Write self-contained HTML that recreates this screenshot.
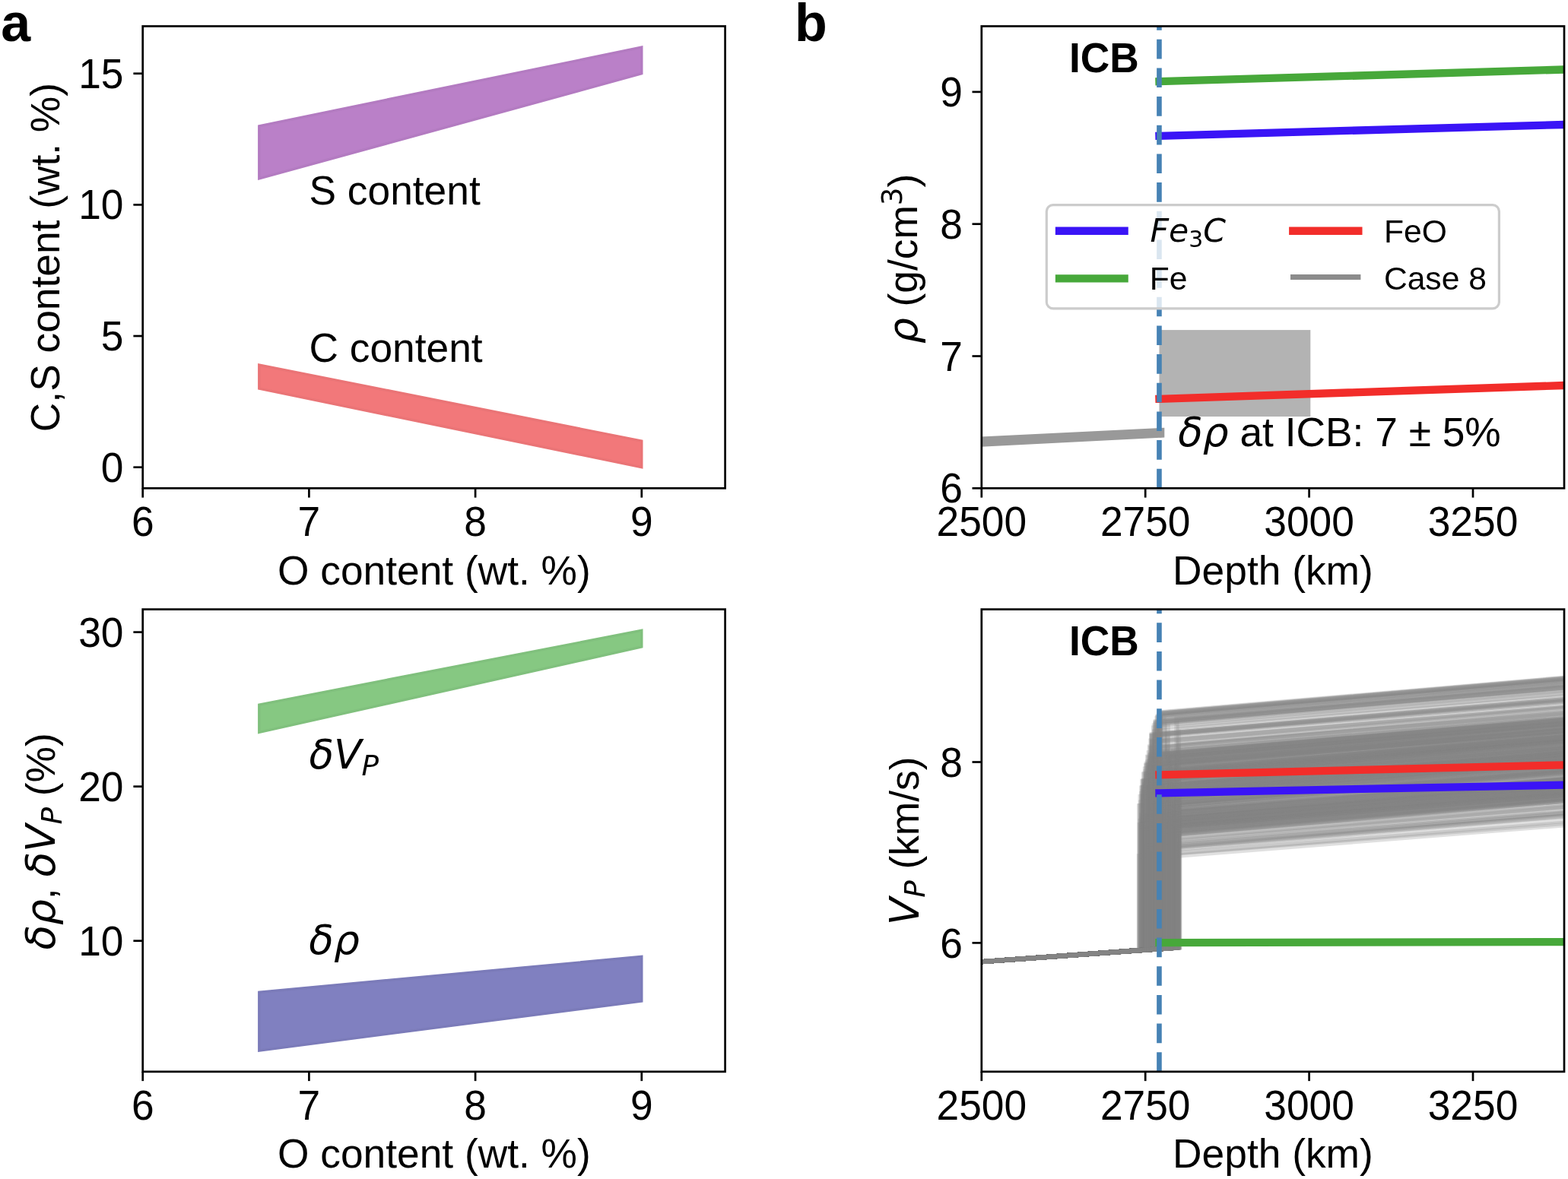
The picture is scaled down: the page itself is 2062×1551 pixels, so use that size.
<!DOCTYPE html>
<html><head><meta charset="utf-8"><title>Figure</title>
<style>html,body{margin:0;padding:0;background:#fff;}svg{display:block;}svg{font-family:'Liberation Sans', Arial, sans-serif;font-size:53.3px;}text{fill:#000;font-kerning:none;}</style>
</head><body>
<svg width="2062" height="1551" viewBox="0 0 2062 1551">
<rect x="0" y="0" width="2062" height="1551" fill="#fff"/>
<defs>
<clipPath id="cA1"><rect x="187.7" y="34.5" width="765.9" height="607.8"/></clipPath>
<clipPath id="cA2"><rect x="187.7" y="801.6" width="765.9" height="608.2"/></clipPath>
<clipPath id="cB1"><rect x="1290.8" y="34.5" width="766.2" height="607.8"/></clipPath>
<clipPath id="cB2"><rect x="1290.8" y="801.6" width="766.2" height="608.2"/></clipPath>
</defs>
<g clip-path="url(#cA1)">
<path d="M340.79,234.85 L843.8,96.73 L843.8,62.2 L340.79,165.79 Z" fill="#ba80c8" stroke="#b37bc1" stroke-width="3.4" stroke-linejoin="miter"/>
<path d="M340.79,511.09 L843.8,614.68 L843.8,580.15 L340.79,480.01 Z" fill="#f2787a" stroke="#ea7476" stroke-width="3.4" stroke-linejoin="miter"/>
</g>
<rect x="187.7" y="34.5" width="765.9" height="607.8" fill="none" stroke="#000" stroke-width="2.7" stroke-linejoin="miter"/>
<line x1="187.7" y1="642.3" x2="187.7" y2="654.6" stroke="#000" stroke-width="2.7"/>
<text transform="translate(187.7,705.4) scale(1,1.04)" text-anchor="middle">6</text>
<line x1="406.4" y1="642.3" x2="406.4" y2="654.6" stroke="#000" stroke-width="2.7"/>
<text transform="translate(406.4,705.4) scale(1,1.04)" text-anchor="middle">7</text>
<line x1="625.1" y1="642.3" x2="625.1" y2="654.6" stroke="#000" stroke-width="2.7"/>
<text transform="translate(625.1,705.4) scale(1,1.04)" text-anchor="middle">8</text>
<line x1="843.8" y1="642.3" x2="843.8" y2="654.6" stroke="#000" stroke-width="2.7"/>
<text transform="translate(843.8,705.4) scale(1,1.04)" text-anchor="middle">9</text>
<line x1="175.4" y1="614.68" x2="187.7" y2="614.68" stroke="#000" stroke-width="2.7"/>
<text transform="translate(162.5,633.78) scale(1,1.04)" text-anchor="end">0</text>
<line x1="175.4" y1="442.03" x2="187.7" y2="442.03" stroke="#000" stroke-width="2.7"/>
<text transform="translate(162.5,461.13) scale(1,1.04)" text-anchor="end">5</text>
<line x1="175.4" y1="269.38" x2="187.7" y2="269.38" stroke="#000" stroke-width="2.7"/>
<text transform="translate(162.5,288.48) scale(1,1.04)" text-anchor="end">10</text>
<line x1="175.4" y1="96.73" x2="187.7" y2="96.73" stroke="#000" stroke-width="2.7"/>
<text transform="translate(162.5,115.83) scale(1,1.04)" text-anchor="end">15</text>
<text transform="translate(406.5,269.1)">S content</text>
<text transform="translate(406.5,475.8)">C content</text>
<text transform="translate(570.9,768.5)" text-anchor="middle">O content (wt. %)</text>
<text transform="translate(78.4,338.6) rotate(-90)" text-anchor="middle">C,S content (wt. %)</text>
<g clip-path="url(#cA2)">
<path d="M340.79,963.38 L843.8,850.89 L843.8,829.37 L340.79,927.03 Z" fill="#86c882" stroke="#80c07d" stroke-width="3.4" stroke-linejoin="miter"/>
<path d="M340.79,1382.07 L843.8,1316.89 L843.8,1258.41 L340.79,1305.32 Z" fill="#8080c0" stroke="#7b7bb9" stroke-width="3.4" stroke-linejoin="miter"/>
</g>
<rect x="187.7" y="801.6" width="765.9" height="608.2" fill="none" stroke="#000" stroke-width="2.7" stroke-linejoin="miter"/>
<line x1="187.7" y1="1409.8" x2="187.7" y2="1422.1" stroke="#000" stroke-width="2.7"/>
<text transform="translate(187.7,1472.9) scale(1,1.04)" text-anchor="middle">6</text>
<line x1="406.4" y1="1409.8" x2="406.4" y2="1422.1" stroke="#000" stroke-width="2.7"/>
<text transform="translate(406.4,1472.9) scale(1,1.04)" text-anchor="middle">7</text>
<line x1="625.1" y1="1409.8" x2="625.1" y2="1422.1" stroke="#000" stroke-width="2.7"/>
<text transform="translate(625.1,1472.9) scale(1,1.04)" text-anchor="middle">8</text>
<line x1="843.8" y1="1409.8" x2="843.8" y2="1422.1" stroke="#000" stroke-width="2.7"/>
<text transform="translate(843.8,1472.9) scale(1,1.04)" text-anchor="middle">9</text>
<line x1="175.4" y1="1237.7" x2="187.7" y2="1237.7" stroke="#000" stroke-width="2.7"/>
<text transform="translate(162.5,1256.8) scale(1,1.04)" text-anchor="end">10</text>
<line x1="175.4" y1="1034.65" x2="187.7" y2="1034.65" stroke="#000" stroke-width="2.7"/>
<text transform="translate(162.5,1053.75) scale(1,1.04)" text-anchor="end">20</text>
<line x1="175.4" y1="831.6" x2="187.7" y2="831.6" stroke="#000" stroke-width="2.7"/>
<text transform="translate(162.5,850.7) scale(1,1.04)" text-anchor="end">30</text>
<text transform="translate(406.5,1011.1)" font-family="'DejaVu Sans', sans-serif" font-style="oblique">δV<tspan font-size="37.31" dy="8.7">P</tspan></text>
<text transform="translate(406.3,1255.1)" font-family="'DejaVu Sans', sans-serif" font-style="oblique">δρ</text>
<text transform="translate(570.9,1535.9)" text-anchor="middle">O content (wt. %)</text>
<text transform="translate(71.9,1249.6) rotate(-90)"><tspan font-family="'DejaVu Sans', sans-serif" font-style="oblique">δρ</tspan><tspan>, </tspan><tspan font-family="'DejaVu Sans', sans-serif" font-style="oblique">δV</tspan><tspan font-family="'DejaVu Sans', sans-serif" font-style="oblique" font-size="37.31" dy="8.7">P</tspan><tspan dy="-8.7"> (%)</tspan></text>
<g clip-path="url(#cB1)">
<path d="M1288,574.6 L1531.3,562.7 L1531.3,575.6 L1288,587.9 Z" fill="#999999"/>
<rect x="1524.45" y="434.1" width="198.85" height="113.9" fill="#b3b3b3"/>
<line x1="1524.45" y1="107.2" x2="2100" y2="90.23" stroke="#47a83a" stroke-width="10.3" stroke-linecap="square"/>
<line x1="1524.45" y1="178.8" x2="2100" y2="162.8" stroke="#3a14f6" stroke-width="10.3" stroke-linecap="square"/>
<line x1="1524.45" y1="524.8" x2="2100" y2="505.56" stroke="#f22d2a" stroke-width="10.3" stroke-linecap="square"/>
<line x1="1524.45" y1="642.3" x2="1524.45" y2="0" stroke="#4682b4" stroke-width="6.6" stroke-dasharray="25.6 12.06"/>
</g>
<rect x="1290.8" y="34.5" width="766.2" height="607.8" fill="none" stroke="#000" stroke-width="2.7" stroke-linejoin="miter"/>
<line x1="1290.8" y1="642.3" x2="1290.8" y2="654.6" stroke="#000" stroke-width="2.7"/>
<text transform="translate(1290.8,705.4) scale(1,1.04)" text-anchor="middle">2500</text>
<line x1="1506.2" y1="642.3" x2="1506.2" y2="654.6" stroke="#000" stroke-width="2.7"/>
<text transform="translate(1506.2,705.4) scale(1,1.04)" text-anchor="middle">2750</text>
<line x1="1721.6" y1="642.3" x2="1721.6" y2="654.6" stroke="#000" stroke-width="2.7"/>
<text transform="translate(1721.6,705.4) scale(1,1.04)" text-anchor="middle">3000</text>
<line x1="1937" y1="642.3" x2="1937" y2="654.6" stroke="#000" stroke-width="2.7"/>
<text transform="translate(1937,705.4) scale(1,1.04)" text-anchor="middle">3250</text>
<line x1="1278.5" y1="642.3" x2="1290.8" y2="642.3" stroke="#000" stroke-width="2.7"/>
<text transform="translate(1266,661.4) scale(1,1.04)" text-anchor="end">6</text>
<line x1="1278.5" y1="468.5" x2="1290.8" y2="468.5" stroke="#000" stroke-width="2.7"/>
<text transform="translate(1266,487.6) scale(1,1.04)" text-anchor="end">7</text>
<line x1="1278.5" y1="294.7" x2="1290.8" y2="294.7" stroke="#000" stroke-width="2.7"/>
<text transform="translate(1266,313.8) scale(1,1.04)" text-anchor="end">8</text>
<line x1="1278.5" y1="120.9" x2="1290.8" y2="120.9" stroke="#000" stroke-width="2.7"/>
<text transform="translate(1266,140) scale(1,1.04)" text-anchor="end">9</text>
<text transform="translate(1405.93,95) scale(1,1.04)" font-weight="bold">ICB</text>
<rect x="1376.3" y="269.6" width="595.1" height="136.3" rx="8.5" ry="8.5" fill="#ffffff" fill-opacity="0.8" stroke="#cccccc" stroke-width="3.2"/>
<line x1="1393.05" y1="303.7" x2="1478.55" y2="303.7" stroke="#3a14f6" stroke-width="10.4" stroke-linecap="square"/>
<line x1="1393.05" y1="366.4" x2="1478.55" y2="366.4" stroke="#47a83a" stroke-width="10.4" stroke-linecap="square"/>
<line x1="1700.3" y1="303.7" x2="1786.3" y2="303.7" stroke="#f22d2a" stroke-width="10.4" stroke-linecap="square"/>
<line x1="1700.5" y1="364.4" x2="1785.9" y2="364.4" stroke="#8c8c8c" stroke-width="7" stroke-linecap="square"/>
<text transform="translate(1512.5,318.2)" font-family="'DejaVu Sans', sans-serif" font-style="oblique" font-size="42.6">Fe<tspan font-family="'DejaVu Sans', sans-serif" font-style="normal" font-size="29.82" dy="6.8">3</tspan><tspan dy="-6.8">C</tspan></text>
<text transform="translate(1511.7,380.5)" font-size="42.6">Fe</text>
<text transform="translate(1820,318.5)" font-size="42.6">FeO</text>
<text transform="translate(1819.9,380.5)" font-size="42.6">Case 8</text>
<text transform="translate(1549.2,586.9)"><tspan font-family="'DejaVu Sans', sans-serif" font-style="oblique">δρ</tspan> at ICB: 7 ± 5%</text>
<text transform="translate(1673.9,768.5)" text-anchor="middle">Depth (km)</text>
<text transform="translate(1206.4,452.1) rotate(-90)"><tspan font-family="'DejaVu Sans', sans-serif" font-style="oblique">ρ</tspan><tspan> (g/cm</tspan><tspan font-family="'DejaVu Sans', sans-serif" font-size="37.31" dy="-20.6">3</tspan><tspan dy="20.6">)</tspan></text>
<g clip-path="url(#cB2)">
<g fill="none" stroke="#858585" stroke-width="6.2" stroke-opacity="0.25" stroke-linejoin="miter">
<path d="M1285,1265.62 L1533.58,1247.6 L1533.58,1005.84 L2100,957.98"/>
<path d="M1285,1265.62 L1503.87,1249.75 L1503.87,1028.4 L2100,980.13"/>
<path d="M1285,1265.62 L1502.83,1249.83 L1502.83,1035.53 L2100,988.28"/>
<path d="M1285,1265.62 L1501.9,1249.9 L1501.9,1076.82 L2100,1029.89"/>
<path d="M1285,1265.62 L1525.42,1248.19 L1525.42,1089.51 L2100,1042.24"/>
<path d="M1285,1265.62 L1542.46,1246.95 L1542.46,1095.63 L2100,1048.57"/>
<path d="M1285,1265.62 L1518.23,1248.71 L1518.23,1002.37 L2100,952.96"/>
<path d="M1285,1265.62 L1529.15,1247.92 L1529.15,1051.07 L2100,1003.26"/>
<path d="M1285,1265.62 L1510.2,1249.29 L1510.2,996.59 L2100,948.47"/>
<path d="M1285,1265.62 L1513.58,1249.05 L1513.58,1034.9 L2100,986.5"/>
<path d="M1285,1265.62 L1539.97,1247.13 L1539.97,1021.48 L2100,972.45"/>
<path d="M1285,1265.62 L1522.7,1248.39 L1522.7,1050.31 L2100,1001.45"/>
<path d="M1285,1265.62 L1550.37,1246.38 L1550.37,1020.23 L2100,972.37"/>
<path d="M1285,1265.62 L1503.13,1249.81 L1503.13,1069.5 L2100,1021.88"/>
<path d="M1285,1265.62 L1536.63,1247.38 L1536.63,1060.16 L2100,1012"/>
<path d="M1285,1265.62 L1519.26,1248.64 L1519.26,975.19 L2100,925.86"/>
<path d="M1285,1265.62 L1541.87,1247 L1541.87,1037.9 L2100,988.57"/>
<path d="M1285,1265.62 L1499.37,1250.08 L1499.37,1059.74 L2100,1011.54"/>
<path d="M1285,1265.62 L1540.18,1247.12 L1540.18,1094.28 L2100,1047.22"/>
<path d="M1285,1265.62 L1498.07,1250.17 L1498.07,1060.21 L2100,1012.54"/>
<path d="M1285,1265.62 L1508.97,1249.38 L1508.97,1002.3 L2100,953.05"/>
<path d="M1285,1265.62 L1519.9,1248.59 L1519.9,1016 L2100,966.66"/>
<path d="M1285,1265.62 L1525.36,1248.19 L1525.36,1037.16 L2100,988.07"/>
<path d="M1285,1265.62 L1521.55,1248.47 L1521.55,944.87 L2100,895.46"/>
<path d="M1285,1265.62 L1548.77,1246.5 L1548.77,1082.84 L2100,1035.84"/>
<path d="M1285,1265.62 L1513.32,1249.07 L1513.32,1014.36 L2100,965.87"/>
<path d="M1285,1265.62 L1504.56,1249.7 L1504.56,1017.59 L2100,969.35"/>
<path d="M1285,1265.62 L1548.5,1246.52 L1548.5,1049.47 L2100,1000.81"/>
<path d="M1285,1265.62 L1531.27,1247.77 L1531.27,1054.85 L2100,1007.77"/>
<path d="M1285,1265.62 L1535.75,1247.44 L1535.75,949.68 L2100,899.41"/>
<path d="M1285,1265.62 L1504.79,1249.69 L1504.79,1031.89 L2100,983.4"/>
<path d="M1285,1265.62 L1515.27,1248.93 L1515.27,997.07 L2100,949.02"/>
<path d="M1285,1265.62 L1509,1249.38 L1509,995.52 L2100,947.51"/>
<path d="M1285,1265.62 L1502.85,1249.83 L1502.85,1028.18 L2100,979.13"/>
<path d="M1285,1265.62 L1515.52,1248.91 L1515.52,1005.6 L2100,957.27"/>
<path d="M1285,1265.62 L1543.65,1246.87 L1543.65,1002.9 L2100,952.93"/>
<path d="M1285,1265.62 L1502.47,1249.85 L1502.47,1040.8 L2100,993.6"/>
<path d="M1285,1265.62 L1542.02,1246.99 L1542.02,1017.8 L2100,969.87"/>
<path d="M1285,1265.62 L1522.61,1248.39 L1522.61,1089.85 L2100,1043.15"/>
<path d="M1285,1265.62 L1529.02,1247.93 L1529.02,992.84 L2100,942.87"/>
<path d="M1285,1265.62 L1517.79,1248.74 L1517.79,954.41 L2100,905.27"/>
<path d="M1285,1265.62 L1522.86,1248.38 L1522.86,1071.05 L2100,1022.7"/>
<path d="M1285,1265.62 L1541.25,1247.04 L1541.25,1013.42 L2100,963.65"/>
<path d="M1285,1265.62 L1531.4,1247.76 L1531.4,948.19 L2100,898.06"/>
<path d="M1285,1265.62 L1514.18,1249 L1514.18,1044.35 L2100,997.29"/>
<path d="M1285,1265.62 L1513.4,1249.06 L1513.4,1019.34 L2100,970.48"/>
<path d="M1285,1265.62 L1547.45,1246.59 L1547.45,1106.94 L2100,1058.5"/>
<path d="M1285,1265.62 L1506.3,1249.58 L1506.3,1104.16 L2100,1057.6"/>
<path d="M1285,1265.62 L1531.73,1247.73 L1531.73,1011.46 L2100,961.91"/>
<path d="M1285,1265.62 L1519.11,1248.65 L1519.11,966.39 L2100,916.48"/>
<path d="M1285,1265.62 L1545.71,1246.72 L1545.71,1059.36 L2100,1010.67"/>
<path d="M1285,1265.62 L1514.76,1248.96 L1514.76,966.47 L2100,916.61"/>
<path d="M1285,1265.62 L1549.67,1246.43 L1549.67,1074.09 L2100,1026.42"/>
<path d="M1285,1265.62 L1534.2,1247.55 L1534.2,1089.41 L2100,1042.58"/>
<path d="M1285,1265.62 L1546.47,1246.66 L1546.47,1005.87 L2100,956.33"/>
<path d="M1285,1265.62 L1550.23,1246.39 L1550.23,1076.78 L2100,1028.59"/>
<path d="M1285,1265.62 L1503.12,1249.81 L1503.12,1047.61 L2100,1000.69"/>
<path d="M1285,1265.62 L1522.51,1248.4 L1522.51,1114.41 L2100,1066.36"/>
<path d="M1285,1265.62 L1540.44,1247.1 L1540.44,1081.53 L2100,1034.45"/>
<path d="M1285,1265.62 L1512.39,1249.13 L1512.39,1020.76 L2100,972.16"/>
<path d="M1285,1265.62 L1505.64,1249.62 L1505.64,1034 L2100,984.93"/>
<path d="M1285,1265.62 L1527.09,1248.07 L1527.09,1038.11 L2100,988.97"/>
<path d="M1285,1265.62 L1521.1,1248.5 L1521.1,1086.36 L2100,1038.78"/>
<path d="M1285,1265.62 L1525.34,1248.2 L1525.34,991.96 L2100,943.72"/>
<path d="M1285,1265.62 L1504.05,1249.74 L1504.05,1073.91 L2100,1026.39"/>
<path d="M1285,1265.62 L1512.12,1249.15 L1512.12,1048.43 L2100,1000.38"/>
<path d="M1285,1265.62 L1501.16,1249.95 L1501.16,1072.35 L2100,1024.63"/>
<path d="M1285,1265.62 L1538.9,1247.21 L1538.9,1019.08 L2100,970.44"/>
<path d="M1285,1265.62 L1545.88,1246.71 L1545.88,1069.8 L2100,1022"/>
<path d="M1285,1265.62 L1522.66,1248.39 L1522.66,1043.08 L2100,994.51"/>
<path d="M1285,1265.62 L1520.51,1248.55 L1520.51,1045.99 L2100,996.94"/>
<path d="M1285,1265.62 L1547.78,1246.57 L1547.78,1082.04 L2100,1034.8"/>
<path d="M1285,1265.62 L1541.31,1247.04 L1541.31,1089.04 L2100,1042.22"/>
<path d="M1285,1265.62 L1502.93,1249.82 L1502.93,1036.42 L2100,988.86"/>
<path d="M1285,1265.62 L1537.82,1247.29 L1537.82,1060.29 L2100,1011.43"/>
<path d="M1285,1265.62 L1530.31,1247.84 L1530.31,1065.19 L2100,1018.08"/>
<path d="M1285,1265.62 L1525.01,1248.22 L1525.01,938.89 L2100,888.21"/>
<path d="M1285,1265.62 L1550.87,1246.34 L1550.87,1041.16 L2100,992.06"/>
<path d="M1285,1265.62 L1523.81,1248.31 L1523.81,1035.31 L2100,987.38"/>
<path d="M1285,1265.62 L1535.9,1247.43 L1535.9,1023.45 L2100,975.95"/>
<path d="M1285,1265.62 L1501.16,1249.95 L1501.16,1036.25 L2100,988.49"/>
<path d="M1285,1265.62 L1501.19,1249.95 L1501.19,1043.79 L2100,994.73"/>
<path d="M1285,1265.62 L1525.25,1248.2 L1525.25,938.65 L2100,889.44"/>
<path d="M1285,1265.62 L1508.74,1249.4 L1508.74,1071.79 L2100,1024.95"/>
<path d="M1285,1265.62 L1539.99,1247.13 L1539.99,1085.7 L2100,1038.57"/>
<path d="M1285,1265.62 L1525.04,1248.22 L1525.04,1086.51 L2100,1038.55"/>
<path d="M1285,1265.62 L1536.14,1247.41 L1536.14,996.04 L2100,947.26"/>
<path d="M1285,1265.62 L1528.78,1247.95 L1528.78,1088.53 L2100,1040.35"/>
<path d="M1285,1265.62 L1499.59,1250.06 L1499.59,1079.9 L2100,1031.65"/>
<path d="M1285,1265.62 L1526.7,1248.1 L1526.7,1025.61 L2100,976.25"/>
<path d="M1285,1265.62 L1527.76,1248.02 L1527.76,1003.57 L2100,955.36"/>
<path d="M1285,1265.62 L1507.99,1249.45 L1507.99,1006.95 L2100,959"/>
<path d="M1285,1265.62 L1538,1247.28 L1538,1022.03 L2100,973.91"/>
<path d="M1285,1265.62 L1518.96,1248.66 L1518.96,1008.68 L2100,961.08"/>
<path d="M1285,1265.62 L1538.51,1247.24 L1538.51,991.61 L2100,942.48"/>
<path d="M1285,1265.62 L1547.49,1246.59 L1547.49,1039.85 L2100,992.33"/>
<path d="M1285,1265.62 L1515.36,1248.92 L1515.36,968.94 L2100,919.02"/>
<path d="M1285,1265.62 L1532.59,1247.67 L1532.59,1043.2 L2100,993.94"/>
<path d="M1285,1265.62 L1533.1,1247.63 L1533.1,1077.39 L2100,1029.37"/>
<path d="M1285,1265.62 L1504.23,1249.73 L1504.23,1026.49 L2100,979.01"/>
<path d="M1285,1265.62 L1508.01,1249.45 L1508.01,1067.79 L2100,1020.82"/>
<path d="M1285,1265.62 L1543.22,1246.9 L1543.22,1078.33 L2100,1030.18"/>
<path d="M1285,1265.62 L1515.66,1248.9 L1515.66,1015.43 L2100,967"/>
<path d="M1285,1265.62 L1510.78,1249.25 L1510.78,1036.81 L2100,987.65"/>
<path d="M1285,1265.62 L1507.46,1249.49 L1507.46,1110.52 L2100,1062.45"/>
<path d="M1285,1265.62 L1502.51,1249.85 L1502.51,1027.44 L2100,979.44"/>
<path d="M1285,1265.62 L1507.08,1249.52 L1507.08,1042.79 L2100,994.72"/>
<path d="M1285,1265.62 L1507.1,1249.52 L1507.1,1017.74 L2100,969.53"/>
<path d="M1285,1265.62 L1519.76,1248.6 L1519.76,992.36 L2100,944.06"/>
<path d="M1285,1265.62 L1536.21,1247.41 L1536.21,1045.56 L2100,997.01"/>
<path d="M1285,1265.62 L1514.92,1248.95 L1514.92,1082.3 L2100,1035.15"/>
<path d="M1285,1265.62 L1534.16,1247.56 L1534.16,1097.87 L2100,1050.14"/>
<path d="M1285,1265.62 L1544.58,1246.8 L1544.58,1077.71 L2100,1029.63"/>
<path d="M1285,1265.62 L1502.57,1249.85 L1502.57,1075.28 L2100,1027.68"/>
<path d="M1285,1265.62 L1539.1,1247.2 L1539.1,1077.67 L2100,1029.2"/>
<path d="M1285,1265.62 L1531.67,1247.74 L1531.67,1083.75 L2100,1035.71"/>
<path d="M1285,1265.62 L1513.23,1249.07 L1513.23,993.27 L2100,944.75"/>
<path d="M1285,1265.62 L1524.34,1248.27 L1524.34,1077.76 L2100,1029.83"/>
<path d="M1285,1265.62 L1520.4,1248.55 L1520.4,1061.47 L2100,1014.67"/>
<path d="M1285,1265.62 L1519.8,1248.6 L1519.8,951.48 L2100,901.92"/>
<path d="M1285,1265.62 L1538.38,1247.25 L1538.38,996.94 L2100,948.53"/>
<path d="M1285,1265.62 L1536.68,1247.37 L1536.68,1017.88 L2100,969.9"/>
<path d="M1285,1265.62 L1520.66,1248.53 L1520.66,1092.45 L2100,1045.29"/>
<path d="M1285,1265.62 L1536.78,1247.37 L1536.78,1061.79 L2100,1013.56"/>
<path d="M1285,1265.62 L1512.82,1249.1 L1512.82,998.13 L2100,949.91"/>
<path d="M1285,1265.62 L1515.27,1248.93 L1515.27,975.68 L2100,927.63"/>
<path d="M1285,1265.62 L1533.58,1247.6 L1533.58,1018.22 L2100,969.21"/>
<path d="M1285,1265.62 L1525.36,1248.19 L1525.36,1020.54 L2100,972.11"/>
<path d="M1285,1265.62 L1545.95,1246.7 L1545.95,1002.44 L2100,954.18"/>
<path d="M1285,1265.62 L1497.92,1250.18 L1497.92,1126.21 L2100,1079.52"/>
<path d="M1285,1265.62 L1525.49,1248.19 L1525.49,938.86 L2100,889.65"/>
<path d="M1285,1265.62 L1505.83,1249.61 L1505.83,1089.29 L2100,1041.74"/>
<path d="M1285,1265.62 L1548.54,1246.51 L1548.54,1045.03 L2100,997.51"/>
<path d="M1285,1265.62 L1535.14,1247.49 L1535.14,964.8 L2100,914.96"/>
<path d="M1285,1265.62 L1520.23,1248.57 L1520.23,1084.26 L2100,1037.75"/>
<path d="M1285,1265.62 L1519.64,1248.61 L1519.64,1041.63 L2100,993.9"/>
<path d="M1285,1265.62 L1514.99,1248.95 L1514.99,1026.12 L2100,977.03"/>
<path d="M1285,1265.62 L1541.25,1247.04 L1541.25,1068.83 L2100,1021.74"/>
<path d="M1285,1265.62 L1545.19,1246.76 L1545.19,1116.9 L2100,1070.13"/>
<path d="M1285,1265.62 L1551.43,1246.3 L1551.43,1031.25 L2100,982.53"/>
<path d="M1285,1265.62 L1511.73,1249.18 L1511.73,1034.95 L2100,987.72"/>
<path d="M1285,1265.62 L1509.5,1249.34 L1509.5,1077.64 L2100,1029.14"/>
<path d="M1285,1265.62 L1525.5,1248.18 L1525.5,1017.9 L2100,970.03"/>
<path d="M1285,1265.62 L1544.09,1246.84 L1544.09,1090.4 L2100,1042.11"/>
<path d="M1285,1265.62 L1547.68,1246.58 L1547.68,1085.91 L2100,1038.1"/>
<path d="M1285,1265.62 L1538.25,1247.26 L1538.25,995.19 L2100,946.33"/>
<path d="M1285,1265.62 L1517.07,1248.8 L1517.07,957.31 L2100,908.9"/>
<path d="M1285,1265.62 L1519.44,1248.62 L1519.44,1097.33 L2100,1050.33"/>
<path d="M1285,1265.62 L1549.97,1246.41 L1549.97,1067.6 L2100,1020.13"/>
<path d="M1285,1265.62 L1527.43,1248.04 L1527.43,1021.59 L2100,973.31"/>
<path d="M1285,1265.62 L1513.54,1249.05 L1513.54,1006.97 L2100,957.47"/>
<path d="M1285,1265.62 L1546.38,1246.67 L1546.38,1013.1 L2100,963.26"/>
<path d="M1285,1265.62 L1513.37,1249.06 L1513.37,1004.66 L2100,956.88"/>
<path d="M1285,1265.62 L1516.02,1248.87 L1516.02,999.56 L2100,951.33"/>
<path d="M1285,1265.62 L1535.71,1247.44 L1535.71,1083.16 L2100,1035.69"/>
<path d="M1285,1265.62 L1515.28,1248.93 L1515.28,1045.04 L2100,997.31"/>
<path d="M1285,1265.62 L1549.67,1246.43 L1549.67,1019.14 L2100,971.25"/>
<path d="M1285,1265.62 L1542.74,1246.93 L1542.74,1056.11 L2100,1008.62"/>
<path d="M1285,1265.62 L1520.31,1248.56 L1520.31,1016.09 L2100,967.67"/>
<path d="M1285,1265.62 L1543.37,1246.89 L1543.37,1122.47 L2100,1076.38"/>
<path d="M1285,1265.62 L1544.81,1246.78 L1544.81,1064.5 L2100,1016.56"/>
<path d="M1285,1265.62 L1523.47,1248.33 L1523.47,990.02 L2100,940.15"/>
<path d="M1285,1265.62 L1547.5,1246.59 L1547.5,945.36 L2100,896.13"/>
<path d="M1285,1265.62 L1527.28,1248.06 L1527.28,1006.21 L2100,957.09"/>
<path d="M1285,1265.62 L1529.54,1247.89 L1529.54,1117.25 L2100,1069.57"/>
<path d="M1285,1265.62 L1499.6,1250.06 L1499.6,1047.91 L2100,999.36"/>
<path d="M1285,1265.62 L1529.44,1247.9 L1529.44,1086.59 L2100,1039.45"/>
<path d="M1285,1265.62 L1531.92,1247.72 L1531.92,1016.44 L2100,967.4"/>
<path d="M1285,1265.62 L1528.45,1247.97 L1528.45,997.39 L2100,948.34"/>
<path d="M1285,1265.62 L1530.36,1247.83 L1530.36,1013.48 L2100,965.89"/>
<path d="M1285,1265.62 L1548.99,1246.48 L1548.99,1038.37 L2100,989.65"/>
<path d="M1285,1265.62 L1514.78,1248.96 L1514.78,966.61 L2100,917.93"/>
<path d="M1285,1265.62 L1510.61,1249.26 L1510.61,1116.57 L2100,1070.6"/>
<path d="M1285,1265.62 L1516.57,1248.83 L1516.57,1060.82 L2100,1013.49"/>
<path d="M1285,1265.62 L1506.6,1249.55 L1506.6,1087.14 L2100,1040.74"/>
<path d="M1285,1265.62 L1532.93,1247.65 L1532.93,1034.16 L2100,986.45"/>
<path d="M1285,1265.62 L1519.58,1248.61 L1519.58,951.99 L2100,903.15"/>
<path d="M1285,1265.62 L1540.06,1247.13 L1540.06,1102.47 L2100,1055.65"/>
<path d="M1285,1265.62 L1509.98,1249.31 L1509.98,1069.85 L2100,1021.19"/>
<path d="M1285,1265.62 L1513.53,1249.05 L1513.53,1009.67 L2100,961.26"/>
<path d="M1285,1265.62 L1502.88,1249.82 L1502.88,1089.62 L2100,1042.5"/>
<path d="M1285,1265.62 L1502.69,1249.84 L1502.69,1092.28 L2100,1045.94"/>
<path d="M1285,1265.62 L1545.48,1246.74 L1545.48,1031.3 L2100,981.98"/>
<path d="M1285,1265.62 L1547.1,1246.62 L1547.1,1094.74 L2100,1047.55"/>
<path d="M1285,1265.62 L1535.51,1247.46 L1535.51,1088.27 L2100,1041.7"/>
<path d="M1285,1265.62 L1517.2,1248.79 L1517.2,1029.76 L2100,981.8"/>
<path d="M1285,1265.62 L1519,1248.66 L1519,990.3 L2100,941.71"/>
<path d="M1285,1265.62 L1549.19,1246.47 L1549.19,1097.25 L2100,1050.34"/>
<path d="M1285,1265.62 L1540.18,1247.12 L1540.18,1076.27 L2100,1028.62"/>
<path d="M1285,1265.62 L1515.76,1248.89 L1515.76,1039.71 L2100,990.65"/>
<path d="M1285,1265.62 L1545.48,1246.74 L1545.48,1028.25 L2100,980.73"/>
<path d="M1285,1265.62 L1536.76,1247.37 L1536.76,1075.24 L2100,1028.46"/>
<path d="M1285,1265.62 L1547.43,1246.59 L1547.43,996.57 L2100,948.08"/>
<path d="M1285,1265.62 L1522.63,1248.39 L1522.63,942.88 L2100,893.75"/>
<path d="M1285,1265.62 L1508.33,1249.43 L1508.33,1113.15 L2100,1065.65"/>
<path d="M1285,1265.62 L1504.31,1249.72 L1504.31,1018.94 L2100,970"/>
<path d="M1285,1265.62 L1547.84,1246.56 L1547.84,1113.8 L2100,1067.54"/>
<path d="M1285,1265.62 L1548.84,1246.49 L1548.84,1039.89 L2100,990.52"/>
<path d="M1285,1265.62 L1521.73,1248.46 L1521.73,1016.36 L2100,967.83"/>
<path d="M1285,1265.62 L1538.97,1247.21 L1538.97,1098.74 L2100,1050.77"/>
<path d="M1285,1265.62 L1521.91,1248.44 L1521.91,950.08 L2100,900.94"/>
<path d="M1285,1265.62 L1538.93,1247.21 L1538.93,1028 L2100,980.42"/>
<path d="M1285,1265.62 L1507.6,1249.48 L1507.6,1069.05 L2100,1022.31"/>
<path d="M1285,1265.62 L1512.3,1249.14 L1512.3,1048.02 L2100,998.97"/>
<path d="M1285,1265.62 L1525.78,1248.16 L1525.78,937.71 L2100,888.88"/>
<path d="M1285,1265.62 L1533.96,1247.57 L1533.96,1042.34 L2100,994.21"/>
<path d="M1285,1265.62 L1529.58,1247.89 L1529.58,1033.77 L2100,985.05"/>
<path d="M1285,1265.62 L1524.73,1248.24 L1524.73,945.85 L2100,897.07"/>
<path d="M1285,1265.62 L1515.25,1248.93 L1515.25,976.22 L2100,927.41"/>
<path d="M1285,1265.62 L1514.31,1249 L1514.31,1010.91 L2100,962.89"/>
<path d="M1285,1265.62 L1525.49,1248.19 L1525.49,1082.84 L2100,1035.62"/>
<path d="M1285,1265.62 L1521.42,1248.48 L1521.42,1094.21 L2100,1047.39"/>
<path d="M1285,1265.62 L1549.97,1246.41 L1549.97,956.82 L2100,908.06"/>
<path d="M1285,1265.62 L1541.34,1247.04 L1541.34,1076.01 L2100,1027.31"/>
<path d="M1285,1265.62 L1507.47,1249.49 L1507.47,1020.84 L2100,973.12"/>
<path d="M1285,1265.62 L1547.01,1246.62 L1547.01,1111.87 L2100,1064.83"/>
<path d="M1285,1265.62 L1514.54,1248.98 L1514.54,968.03 L2100,918.22"/>
<path d="M1285,1265.62 L1526.53,1248.11 L1526.53,1096.83 L2100,1049.18"/>
<path d="M1285,1265.62 L1506.96,1249.53 L1506.96,1028.71 L2100,981.09"/>
<path d="M1285,1265.62 L1529.8,1247.87 L1529.8,1052.94 L2100,1005.52"/>
<path d="M1285,1265.62 L1533.44,1247.61 L1533.44,1024.36 L2100,976.54"/>
<path d="M1285,1265.62 L1540.5,1247.1 L1540.5,1011.36 L2100,962.51"/>
<path d="M1285,1265.62 L1522.28,1248.42 L1522.28,1000.65 L2100,951.76"/>
<path d="M1285,1265.62 L1513.18,1249.08 L1513.18,999.57 L2100,950.42"/>
<path d="M1285,1265.62 L1515.54,1248.91 L1515.54,1019.75 L2100,970.32"/>
<path d="M1285,1265.62 L1513.55,1249.05 L1513.55,1049.48 L2100,1001.66"/>
<path d="M1285,1265.62 L1526.16,1248.14 L1526.16,937.2 L2100,888.11"/>
<path d="M1285,1265.62 L1505.85,1249.61 L1505.85,1011.39 L2100,962.01"/>
<path d="M1285,1265.62 L1515.82,1248.89 L1515.82,1076.14 L2100,1027.69"/>
<path d="M1285,1265.62 L1507.04,1249.52 L1507.04,1007.07 L2100,958.37"/>
<path d="M1285,1265.62 L1500.46,1250 L1500.46,1085.53 L2100,1037.87"/>
<path d="M1285,1265.62 L1504.66,1249.7 L1504.66,1042.97 L2100,995.39"/>
<path d="M1285,1265.62 L1501.27,1249.94 L1501.27,1087.18 L2100,1039.83"/>
<path d="M1285,1265.62 L1525.01,1248.22 L1525.01,938.93 L2100,890.03"/>
<path d="M1285,1265.62 L1520.03,1248.58 L1520.03,1127.92 L2100,1082"/>
<path d="M1285,1265.62 L1545.35,1246.74 L1545.35,1104.93 L2100,1057.26"/>
<path d="M1285,1265.62 L1523.49,1248.33 L1523.49,982.93 L2100,934.48"/>
<path d="M1285,1265.62 L1540.63,1247.09 L1540.63,1078.87 L2100,1031.8"/>
<path d="M1285,1265.62 L1524.2,1248.28 L1524.2,1031.97 L2100,983.89"/>
<path d="M1285,1265.62 L1536.53,1247.38 L1536.53,1015.94 L2100,966.43"/>
<path d="M1285,1265.62 L1536.41,1247.39 L1536.41,1049.05 L2100,1001.88"/>
<path d="M1285,1265.62 L1514.37,1248.99 L1514.37,984.96 L2100,935.9"/>
<path d="M1285,1265.62 L1520.45,1248.55 L1520.45,1022.15 L2100,973.52"/>
<path d="M1285,1265.62 L1518.04,1248.73 L1518.04,1059.18 L2100,1011.42"/>
<path d="M1285,1265.62 L1520.41,1248.55 L1520.41,1054.98 L2100,1007.59"/>
<path d="M1285,1265.62 L1519.9,1248.59 L1519.9,949.68 L2100,900.86"/>
<path d="M1285,1265.62 L1511.48,1249.2 L1511.48,1001.24 L2100,952.7"/>
<path d="M1285,1265.62 L1523.38,1248.34 L1523.38,1036.41 L2100,989.14"/>
<path d="M1285,1265.62 L1538.14,1247.27 L1538.14,998.64 L2100,949.12"/>
<path d="M1285,1265.62 L1527.67,1248.03 L1527.67,995.7 L2100,947.07"/>
<path d="M1285,1265.62 L1542.38,1246.96 L1542.38,1097.55 L2100,1048.98"/>
<path d="M1285,1265.62 L1505.03,1249.67 L1505.03,1075.57 L2100,1026.97"/>
<path d="M1285,1265.62 L1546.11,1246.69 L1546.11,1090.45 L2100,1043.55"/>
<path d="M1285,1265.62 L1523.75,1248.31 L1523.75,941.03 L2100,891.69"/>
<path d="M1285,1265.62 L1534.67,1247.52 L1534.67,983 L2100,934.36"/>
<path d="M1285,1265.62 L1512.78,1249.11 L1512.78,983.73 L2100,933.86"/>
<path d="M1285,1265.62 L1525.25,1248.2 L1525.25,1017.6 L2100,969.44"/>
<path d="M1285,1265.62 L1511.31,1249.21 L1511.31,1009.12 L2100,959.6"/>
<path d="M1285,1265.62 L1503.88,1249.75 L1503.88,1084.02 L2100,1035.97"/>
<path d="M1285,1265.62 L1529.41,1247.9 L1529.41,1045.73 L2100,997.87"/>
<path d="M1285,1265.62 L1518.1,1248.72 L1518.1,962.26 L2100,912.12"/>
<path d="M1285,1265.62 L1528.5,1247.97 L1528.5,1094.26 L2100,1047.05"/>
<path d="M1285,1265.62 L1549.68,1246.43 L1549.68,977.71 L2100,928.23"/>
<path d="M1285,1265.62 L1517.79,1248.74 L1517.79,1070.29 L2100,1023.26"/>
<path d="M1285,1265.62 L1542.8,1246.93 L1542.8,988.11 L2100,939.54"/>
<path d="M1285,1265.62 L1525.93,1248.15 L1525.93,1093.33 L2100,1045.53"/>
<path d="M1285,1265.62 L1510.71,1249.26 L1510.71,990.19 L2100,942.09"/>
<path d="M1285,1265.62 L1523.65,1248.32 L1523.65,1035.38 L2100,986.25"/>
<path d="M1285,1265.62 L1532.99,1247.64 L1532.99,1013.86 L2100,966.24"/>
<path d="M1285,1265.62 L1505.83,1249.61 L1505.83,1027.27 L2100,979.3"/>
<path d="M1285,1265.62 L1526.23,1248.13 L1526.23,1051.28 L2100,1003.86"/>
<path d="M1285,1265.62 L1504.65,1249.7 L1504.65,1039.86 L2100,990.84"/>
<path d="M1285,1265.62 L1509.67,1249.33 L1509.67,1005.68 L2100,956.76"/>
<path d="M1285,1265.62 L1519.59,1248.61 L1519.59,949.55 L2100,900.55"/>
<path d="M1285,1265.62 L1524.56,1248.25 L1524.56,1057.72 L2100,1010.09"/>
<path d="M1285,1265.62 L1547.7,1246.57 L1547.7,1036.59 L2100,987.66"/>
<path d="M1285,1265.62 L1498.77,1250.12 L1498.77,1084.87 L2100,1037.41"/>
<path d="M1285,1265.62 L1506.54,1249.56 L1506.54,1014.96 L2100,965.89"/>
<path d="M1285,1265.62 L1547.77,1246.57 L1547.77,1047.85 L2100,1000.36"/>
<path d="M1285,1265.62 L1521.4,1248.48 L1521.4,1053.85 L2100,1005.55"/>
<path d="M1285,1265.62 L1511.86,1249.17 L1511.86,982.23 L2100,933.68"/>
<path d="M1285,1265.62 L1537.76,1247.3 L1537.76,1083.38 L2100,1035.25"/>
<path d="M1285,1265.62 L1535.44,1247.46 L1535.44,1078.67 L2100,1031.02"/>
<path d="M1285,1265.62 L1514.52,1248.98 L1514.52,967.85 L2100,919.49"/>
<path d="M1285,1265.62 L1520.64,1248.54 L1520.64,994.08 L2100,944.67"/>
<path d="M1285,1265.62 L1533.4,1247.61 L1533.4,1078.76 L2100,1031.56"/>
<path d="M1285,1265.62 L1538.91,1247.21 L1538.91,1035.79 L2100,987.36"/>
<path d="M1285,1265.62 L1549.25,1246.46 L1549.25,1057.41 L2100,1009.89"/>
<path d="M1285,1265.62 L1518.46,1248.69 L1518.46,989.47 L2100,941.12"/>
<path d="M1285,1265.62 L1530.55,1247.82 L1530.55,940.22 L2100,890.86"/>
<path d="M1285,1265.62 L1513.28,1249.07 L1513.28,974.42 L2100,924.44"/>
<path d="M1285,1265.62 L1530.61,1247.81 L1530.61,1062.75 L2100,1013.79"/>
<path d="M1285,1265.62 L1532.55,1247.67 L1532.55,1078.17 L2100,1029.69"/>
<path d="M1285,1265.62 L1525.03,1248.22 L1525.03,1066.09 L2100,1018.67"/>
<path d="M1285,1265.62 L1500.02,1250.03 L1500.02,1055.38 L2100,1006.66"/>
<path d="M1285,1265.62 L1512.36,1249.14 L1512.36,992.82 L2100,943.07"/>
<path d="M1285,1265.62 L1507.63,1249.48 L1507.63,1004.89 L2100,957.26"/>
<path d="M1285,1265.62 L1532.52,1247.68 L1532.52,1056.56 L2100,1008.02"/>
<path d="M1285,1265.62 L1513.7,1249.04 L1513.7,1052 L2100,1003.35"/>
<path d="M1285,1265.62 L1522.25,1248.42 L1522.25,943.3 L2100,892.89"/>
</g>
<line x1="1524.45" y1="1019.3" x2="2100" y2="1005.25" stroke="#f22d2a" stroke-width="10.3" stroke-linecap="square"/>
<line x1="1524.45" y1="1043.3" x2="2100" y2="1031.74" stroke="#3a14f6" stroke-width="10.3" stroke-linecap="square"/>
<line x1="1524.45" y1="1240.2" x2="2100" y2="1239" stroke="#47a83a" stroke-width="10.3" stroke-linecap="square"/>
<line x1="1524.45" y1="1409.8" x2="1524.45" y2="780" stroke="#4682b4" stroke-width="6.6" stroke-dasharray="25.6 12.06"/>
</g>
<rect x="1290.8" y="801.6" width="766.2" height="608.2" fill="none" stroke="#000" stroke-width="2.7" stroke-linejoin="miter"/>
<line x1="1290.8" y1="1409.8" x2="1290.8" y2="1422.1" stroke="#000" stroke-width="2.7"/>
<text transform="translate(1290.8,1472.9) scale(1,1.04)" text-anchor="middle">2500</text>
<line x1="1506.2" y1="1409.8" x2="1506.2" y2="1422.1" stroke="#000" stroke-width="2.7"/>
<text transform="translate(1506.2,1472.9) scale(1,1.04)" text-anchor="middle">2750</text>
<line x1="1721.6" y1="1409.8" x2="1721.6" y2="1422.1" stroke="#000" stroke-width="2.7"/>
<text transform="translate(1721.6,1472.9) scale(1,1.04)" text-anchor="middle">3000</text>
<line x1="1937" y1="1409.8" x2="1937" y2="1422.1" stroke="#000" stroke-width="2.7"/>
<text transform="translate(1937,1472.9) scale(1,1.04)" text-anchor="middle">3250</text>
<line x1="1278.5" y1="1240.4" x2="1290.8" y2="1240.4" stroke="#000" stroke-width="2.7"/>
<text transform="translate(1266,1259.5) scale(1,1.04)" text-anchor="end">6</text>
<line x1="1278.5" y1="1002.5" x2="1290.8" y2="1002.5" stroke="#000" stroke-width="2.7"/>
<text transform="translate(1266,1021.6) scale(1,1.04)" text-anchor="end">8</text>
<text transform="translate(1405.93,862.3) scale(1,1.04)" font-weight="bold">ICB</text>
<text transform="translate(1673.9,1535.9)" text-anchor="middle">Depth (km)</text>
<text transform="translate(1207.7,1217.3) rotate(-90)"><tspan font-family="'DejaVu Sans', sans-serif" font-style="oblique">V</tspan><tspan font-family="'DejaVu Sans', sans-serif" font-style="oblique" font-size="37.31" dy="8.7">P</tspan><tspan dy="-8.7"> (km/s)</tspan></text>
<text transform="translate(1.35,54)" font-weight="bold" font-size="70">a</text>
<text transform="translate(1045,54.2)" font-weight="bold" font-size="70">b</text>
</svg>
</body></html>
